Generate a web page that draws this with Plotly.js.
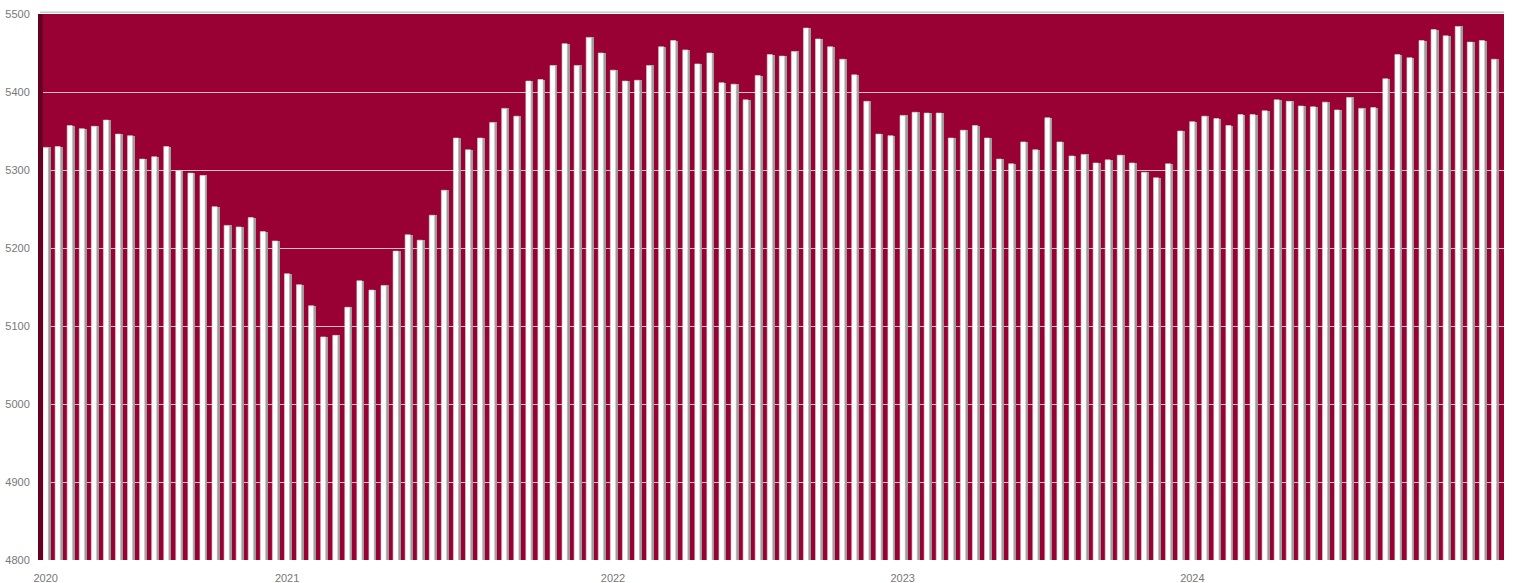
<!DOCTYPE html>
<html>
<head>
<meta charset="utf-8">
<script src="https://cdn.plot.ly/plotly-3.0.1.min.js"></script>
<style>
  html, body { margin: 0; padding: 0; background: #ffffff; }
  #chart { width: 1518px; height: 583px; }
</style>
</head>
<body>
<div id="chart"></div>
<script>
// ---- data ----
const values = [
  5329, 5330, 5357, 5353, 5356, 5364, 5346, 5344, 5314, 5317,
  5330, 5299, 5296, 5293, 5253, 5229, 5227, 5239, 5221, 5209,
  5167, 5153, 5126, 5086, 5088, 5124, 5158, 5146, 5152, 5196,
  5217, 5210, 5242, 5274, 5341, 5326, 5341, 5361, 5379, 5369,
  5414, 5416, 5434, 5462, 5434, 5470, 5450, 5428, 5414, 5415,
  5434, 5458, 5466, 5454, 5436, 5450, 5412, 5410, 5390, 5421,
  5448, 5446, 5452, 5482, 5468, 5458, 5442, 5422, 5388, 5346,
  5344, 5370, 5374, 5373, 5373, 5341, 5351, 5357, 5341, 5314,
  5308, 5336, 5326, 5367, 5336, 5318, 5320, 5309, 5313, 5319,
  5309, 5297, 5290, 5308, 5350, 5362, 5369, 5366, 5357, 5371,
  5371, 5376, 5390, 5388, 5382, 5381, 5387, 5377, 5393, 5379,
  5380, 5417, 5448, 5444, 5466, 5480, 5472, 5484, 5464, 5466,
  5442
];
const periods = values.map((v, i) => i);
const yearLabels = ['2020', '2021', '2022', '2023', '2024'];
const yearFirstPeriod = [0, 20, 47, 71, 95];
const yTicks = [4800, 4900, 5000, 5100, 5200, 5300, 5400, 5500];

// ---- styling ----
const plotBg = '#990033';
const tickFont = { family: 'Liberation Sans, Arial, sans-serif', size: 11, color: '#777777' };

const shadow = {
  type: 'bar', x: periods, y: values,
  width: 0.2, offset: 0.2,
  marker: { color: '#9c9c9c', line: { width: 0 } },
  hoverinfo: 'skip', showlegend: false
};
const front = {
  type: 'bar', x: periods, y: values,
  width: 0.42, offset: -0.22,
  marker: { color: '#ffffff', line: { color: '#d6d6d6', width: 0.6 } },
  hoverinfo: 'x+y', showlegend: false
};

const plotW = 1518 - 43 - 14;
const layout = {
  width: 1518, height: 583,
  margin: { l: 43, r: 14, t: 14, b: 23, pad: 0 },
  paper_bgcolor: '#ffffff',
  plot_bgcolor: plotBg,
  barmode: 'overlay',
  bargap: 0,
  showlegend: false,
  xaxis: {
    range: [-0.225, 120.82],
    tickmode: 'array',
    tickvals: yearFirstPeriod,
    ticktext: yearLabels,
    ticks: 'outside', ticklen: 8, tickcolor: 'rgba(0,0,0,0)',
    showgrid: false, zeroline: false, showline: false,
    tickfont: tickFont
  },
  yaxis: {
    range: [4800, 5500],
    tickmode: 'array',
    tickvals: yTicks,
    ticks: 'outside', ticklen: 10, tickcolor: 'rgba(0,0,0,0)',
    showgrid: true, gridcolor: 'rgba(255,235,240,0.8)', gridwidth: 1,
    zeroline: false, showline: false,
    tickfont: tickFont
  },
  shapes: [
    { type: 'rect', xref: 'paper', yref: 'paper', x0: -5 / plotW, x1: 0, y0: 0, y1: 1,
      fillcolor: '#650022', line: { width: 0 }, layer: 'above' },
    { type: 'line', xref: 'paper', yref: 'paper', x0: -3 / plotW, x1: 1, y0: 1.003, y1: 1.003,
      line: { color: '#cccccc', width: 1.5 }, layer: 'above' }
  ]
};

Plotly.newPlot('chart', [shadow, front], layout, { staticPlot: true, displayModeBar: false });
</script>
</body>
</html>
